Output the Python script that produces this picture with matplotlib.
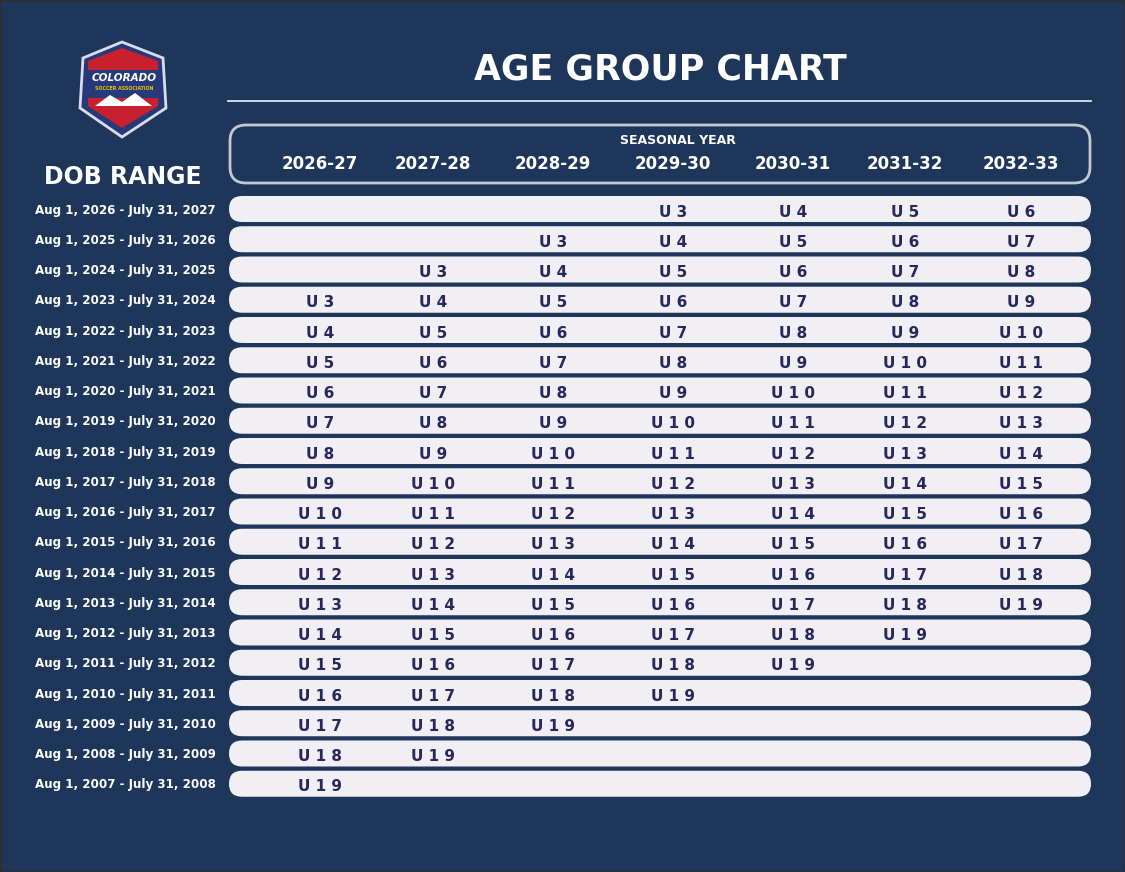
import matplotlib
matplotlib.use("Agg")
import matplotlib.pyplot as plt
from matplotlib.patches import FancyBboxPatch, Polygon, Rectangle

seasons = ["2026-27", "2027-28", "2028-29", "2029-30", "2030-31", "2031-32", "2032-33"]
dob_ranges = [f"Aug 1, {y} - July 31, {y+1}" for y in range(2026, 2006, -1)]
N = None
ages = [
    [N, N, N, 3, 4, 5, 6],
    [N, N, 3, 4, 5, 6, 7],
    [N, 3, 4, 5, 6, 7, 8],
    [3, 4, 5, 6, 7, 8, 9],
    [4, 5, 6, 7, 8, 9, 10],
    [5, 6, 7, 8, 9, 10, 11],
    [6, 7, 8, 9, 10, 11, 12],
    [7, 8, 9, 10, 11, 12, 13],
    [8, 9, 10, 11, 12, 13, 14],
    [9, 10, 11, 12, 13, 14, 15],
    [10, 11, 12, 13, 14, 15, 16],
    [11, 12, 13, 14, 15, 16, 17],
    [12, 13, 14, 15, 16, 17, 18],
    [13, 14, 15, 16, 17, 18, 19],
    [14, 15, 16, 17, 18, 19, N],
    [15, 16, 17, 18, 19, N, N],
    [16, 17, 18, 19, N, N, N],
    [17, 18, 19, N, N, N, N],
    [18, 19, N, N, N, N, N],
    [19, N, N, N, N, N, N],
]

BG = "#1d365a"
ROW = "#f1eff3"
TXT = "#25285a"
FONT = ["DejaVu Sans"]

fig = plt.figure(figsize=(11.25, 8.72), dpi=100, facecolor="#2e2e2e")
ax = fig.add_axes([0, 0, 1, 1])
ax.set_xlim(0, 1125); ax.set_ylim(872, 0); ax.axis("off")
ax.add_patch(Rectangle((2, 2), 1121, 868, color=BG, zorder=0))

# logo
shield = Polygon([(122, 42), (163, 58), (166, 108), (122, 137), (80, 108), (83, 58)],
                 closed=True, fc="#263a7a", ec="#dcdcef", lw=2, zorder=1)
ax.add_patch(shield)
ax.add_patch(Polygon([(122, 48), (158, 61), (158, 70), (88, 70), (88, 61)], fc="#c8202e", zorder=2))
ax.add_patch(Polygon([(88, 98), (158, 98), (158, 106), (122, 128), (88, 106)], fc="#c8202e", zorder=2))
ax.add_patch(Polygon([(95, 106), (110, 95), (122, 102), (135, 93), (152, 106)], fc="white", zorder=3))
ax.text(124, 78, "COLORADO", color="white", fontsize=7.5, fontweight="bold", style="italic",
        ha="center", va="center", family=FONT, zorder=4)
ax.text(124, 88, "SOCCER ASSOCIATION", color="#f2c400", fontsize=3.4, fontweight="bold",
        ha="center", va="center", family=FONT, zorder=4)

ax.text(660, 70, "AGE GROUP CHART", color="white", fontsize=25, fontweight="bold",
        ha="center", va="center", family=FONT)
ax.plot([228, 1091], [101, 101], color="#dfe3ea", lw=1.3)
ax.text(123, 177, "DOB RANGE", color="white", fontsize=17, fontweight="bold",
        ha="center", va="center", family=FONT)

ax.add_patch(FancyBboxPatch((230, 125), 860, 58, boxstyle="round,pad=0,rounding_size=16",
                            fc="none", ec="#c3c8d2", lw=2))
ax.text(678, 141, "SEASONAL YEAR", color="white", fontsize=9, fontweight="bold",
        ha="center", va="center", family=FONT)
col_x = [320, 433, 553, 673, 793, 905, 1021]
for x, s in zip(col_x, seasons):
    ax.text(x, 164, s, color="white", fontsize=12, fontweight="bold", ha="center", va="center", family=FONT)

y0, dy, h = 209, 30.25, 26
for i, (lab, row) in enumerate(zip(dob_ranges, ages)):
    y = y0 + i * dy
    ax.add_patch(FancyBboxPatch((229, y - h / 2), 862, h, boxstyle="round,pad=0,rounding_size=13",
                                fc=ROW, ec="none"))
    ax.text(216, y + 1, lab, color="white", fontsize=8.6, fontweight="bold", ha="right", va="center", family=FONT)
    for x, v in zip(col_x, row):
        if v is not None:
            ax.text(x, y + 3, " ".join("U" + str(v)), color=TXT, fontsize=11, fontweight="bold",
                    ha="center", va="center", family=FONT)

fig.savefig("out.png", dpi=100, facecolor=fig.get_facecolor())
